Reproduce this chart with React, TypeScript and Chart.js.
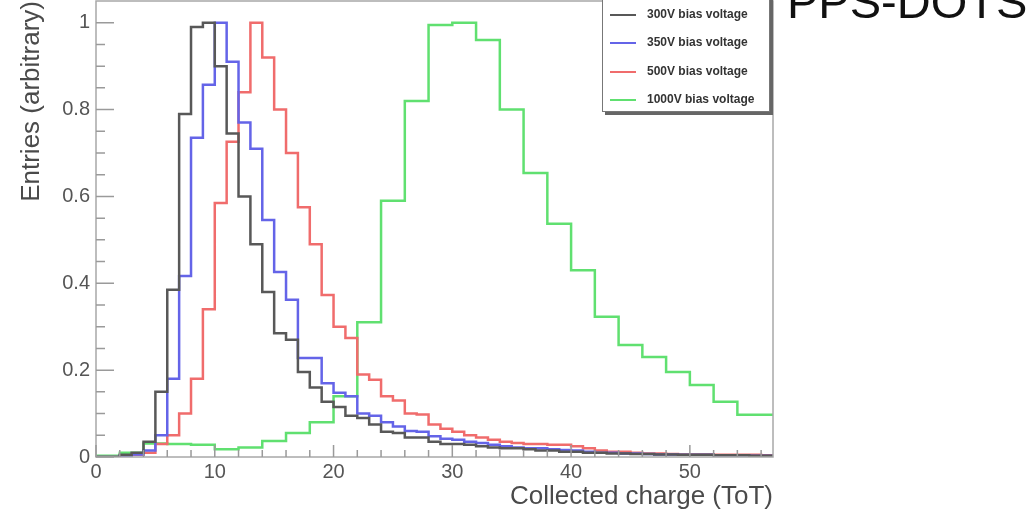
import React, { useEffect, useRef } from "react";
import { Chart, registerables } from "chart.js";

Chart.register(...registerables);

// ---- data ----
const seriesLabels = ["300V bias voltage", "350V bias voltage", "500V bias voltage", "1000V bias voltage"];
const seriesColors = ["#585858", "#6464e8", "#f06c6c", "#60e070"];
const fineBinWidth = 1;
const coarseBinWidth = 2;
const xMin = 0;
const xMax = 57;
const yMin = 0;
const yMax = 1.05;
const xTickValues = [0, 10, 20, 30, 40, 50];
const yTickValues = [0, 0.2, 0.4, 0.6, 0.8, 1];

// bins of width 1 starting at 0
const v300 = [
  0, 0, 0.005, 0.01, 0.035, 0.15, 0.385, 0.79, 0.99, 1.0,
  0.9, 0.745, 0.6, 0.49, 0.38, 0.285, 0.27, 0.196, 0.16, 0.127,
  0.115, 0.095, 0.09, 0.075, 0.058, 0.055, 0.045, 0.045, 0.035, 0.03,
  0.03, 0.028, 0.025, 0.022, 0.02, 0.02, 0.018, 0.015, 0.015, 0.012,
  0.012, 0.01, 0.01, 0.008, 0.008, 0.007, 0.007, 0.006, 0.006, 0.005,
  0.005, 0.005, 0.004, 0.004, 0.004, 0.003, 0.003,
];
const v350 = [
  0, 0, 0.003, 0.006, 0.015, 0.05, 0.18, 0.417, 0.735, 0.857,
  1.0, 0.91, 0.77, 0.71, 0.546, 0.426, 0.362, 0.228, 0.228, 0.17,
  0.148, 0.14, 0.1, 0.095, 0.08, 0.07, 0.06, 0.058, 0.048, 0.042,
  0.04, 0.035, 0.032, 0.028, 0.025, 0.022, 0.02, 0.02, 0.018, 0.016,
  0.015, 0.012, 0.01, 0.01, 0.008, 0.008, 0.007, 0.006, 0.006, 0.005,
  0.005, 0.005, 0.004, 0.004, 0.004, 0.003, 0.003,
];
const v500 = [
  0, 0, 0.003, 0.005, 0.01, 0.03, 0.05, 0.1, 0.18, 0.34,
  0.585, 0.726, 0.84, 1.0, 0.92, 0.8, 0.7, 0.575, 0.49, 0.373,
  0.3, 0.274, 0.19, 0.178, 0.14, 0.13, 0.1, 0.098, 0.075, 0.065,
  0.058, 0.05, 0.045, 0.04, 0.035, 0.032, 0.03, 0.03, 0.028, 0.028,
  0.025, 0.02, 0.015, 0.012, 0.012, 0.01, 0.008, 0.008, 0.007, 0.006,
  0.006, 0.006, 0.005, 0.005, 0.005, 0.005, 0.004,
];
// bins of width 2 starting at 0
const v1000 = [
  0.003, 0.01, 0.031, 0.03, 0.028, 0.018, 0.022, 0.037, 0.055, 0.08,
  0.14, 0.31, 0.59, 0.82, 0.995, 1.0, 0.96, 0.8, 0.654, 0.537,
  0.43, 0.323, 0.258, 0.23, 0.196, 0.166, 0.127, 0.097, 0.097,
];

const FONT = "'Liberation Sans', Arial, Helvetica, sans-serif";

function histPoints(values: number[], width: number) {
  const pts = values.map((v, i) => ({ x: xMin + i * width, y: v }));
  pts.push({ x: xMax, y: values[values.length - 1] });
  return pts;
}

const framePlugin = {
  id: "rootFrame",
  afterDatasetsDraw(chart: any) {
    const { ctx, chartArea } = chart;
    const { left, right, top, bottom } = chartArea;
    const xs = chart.scales.x;
    const ys = chart.scales.y;
    ctx.save();
    // frame
    ctx.strokeStyle = "#a8a8a8";
    ctx.lineWidth = 1.5;
    ctx.strokeRect(left, top, right - left, bottom - top);
    // ticks pointing inward
    ctx.strokeStyle = "#9a9a9a";
    ctx.lineWidth = 1.5;
    ctx.beginPath();
    for (let k = 0; xMin + k * 2 <= xMax; k++) {
      const v = xMin + k * 2;
      const px = xs.getPixelForValue(v);
      const len = v % 10 === 0 ? 12 : 7;
      ctx.moveTo(px, bottom);
      ctx.lineTo(px, bottom - len);
    }
    for (let k = 0; k * 0.05 <= yMax - 0.01; k++) {
      const v = k * 0.05;
      const py = ys.getPixelForValue(v);
      const len = k % 4 === 0 ? 18 : 9;
      ctx.moveTo(left, py);
      ctx.lineTo(left + len, py);
    }
    ctx.stroke();
    ctx.restore();
  },
  afterDraw(chart: any) {
    const { ctx } = chart;
    ctx.save();
    const bx = 602, by = -3, bw = 168, bh = 115;
    ctx.fillStyle = "#666";
    ctx.fillRect(bx + 3, by + 3, bw, bh);
    ctx.fillStyle = "#fff";
    ctx.fillRect(bx, by, bw, bh);
    ctx.strokeStyle = "#777";
    ctx.lineWidth = 1;
    ctx.strokeRect(bx + 0.5, by + 0.5, bw - 1, bh - 1);
    const rows = [15, 43, 72, 100];
    chart.data.datasets.forEach((ds: any, i: number) => {
      const y = rows[i];
      ctx.strokeStyle = ds.borderColor;
      ctx.lineWidth = 2;
      ctx.beginPath();
      ctx.moveTo(610, y);
      ctx.lineTo(636, y);
      ctx.stroke();
      ctx.fillStyle = "#333";
      ctx.font = `bold 12px ${FONT}`;
      ctx.textBaseline = "middle";
      ctx.textAlign = "left";
      ctx.fillText(ds.label, 647, y);
    });
    ctx.restore();
  },
};

export default function App() {
  const canvasRef = useRef<HTMLCanvasElement | null>(null);

  useEffect(() => {
    if (!canvasRef.current) return;
    const allValues = [v300, v350, v500, v1000];
    const widths = [fineBinWidth, fineBinWidth, fineBinWidth, coarseBinWidth];
    const chart = new Chart(canvasRef.current, {
      type: "line",
      data: {
        datasets: allValues.map((vals, i) => ({
          label: seriesLabels[i],
          data: histPoints(vals, widths[i]),
          borderColor: seriesColors[i],
          borderWidth: 2.5,
          pointRadius: 0,
          fill: false,
          stepped: "before" as const,
          tension: 0,
        })),
      },
      options: {
        responsive: false,
        maintainAspectRatio: false,
        animation: false,
        events: [],
        layout: { padding: { left: 0, top: 1, right: 262, bottom: 0 } },
        plugins: { legend: { display: false }, tooltip: { enabled: false } },
        scales: {
          x: {
            type: "linear",
            min: xMin,
            max: xMax,
            afterFit: (s: any) => {
              s.height = 53;
              s.paddingLeft = 0;
              s.paddingRight = 0;
            },
            afterBuildTicks: (s: any) => {
              s.ticks = xTickValues.map((v) => ({ value: v }));
            },
            ticks: {
              color: "#555",
              font: { family: FONT, size: 20 },
              padding: 3,
              maxRotation: 0,
              autoSkip: false,
              callback: (v: any) => String(v),
            },
            grid: { display: false, drawTicks: false },
            border: { display: false },
            title: {
              display: true,
              text: "Collected charge (ToT)",
              align: "end",
              color: "#4a4a4a",
              font: { family: FONT, size: 26, lineHeight: 1 },
              padding: { top: 0, bottom: 0 },
            },
          },
          y: {
            type: "linear",
            min: yMin,
            max: yMax,
            afterFit: (s: any) => {
              s.width = 96;
              s.paddingTop = 0;
              s.paddingBottom = 0;
            },
            afterBuildTicks: (s: any) => {
              s.ticks = yTickValues.map((v) => ({ value: v }));
            },
            ticks: {
              color: "#555",
              font: { family: FONT, size: 20 },
              padding: 6,
              autoSkip: false,
              callback: (v: any) => String(Math.round(Number(v) * 10) / 10),
            },
            grid: { display: false, drawTicks: false },
            border: { display: false },
            title: {
              display: true,
              text: "Entries (arbitrary)",
              align: "end",
              color: "#4a4a4a",
              font: { family: FONT, size: 26, lineHeight: 1.2 },
              padding: { top: 16, bottom: 0 },
            },
          },
        },
      },
      plugins: [framePlugin],
    });
    return () => chart.destroy();
  }, []);

  return (
    <div
      style={{
        position: "absolute",
        left: 0,
        top: 0,
        width: 1035,
        height: 510,
        overflow: "hidden",
        background: "#fff",
      }}
    >
      <canvas ref={canvasRef} width={1035} height={510} style={{ display: "block" }} />
      <div
        style={{
          position: "absolute",
          left: 787,
          top: -22,
          fontFamily: FONT,
          fontSize: 47,
          lineHeight: "47px",
          color: "#111",
          whiteSpace: "nowrap",
        }}
      >
        PPS-DOTS
      </div>
    </div>
  );
}
